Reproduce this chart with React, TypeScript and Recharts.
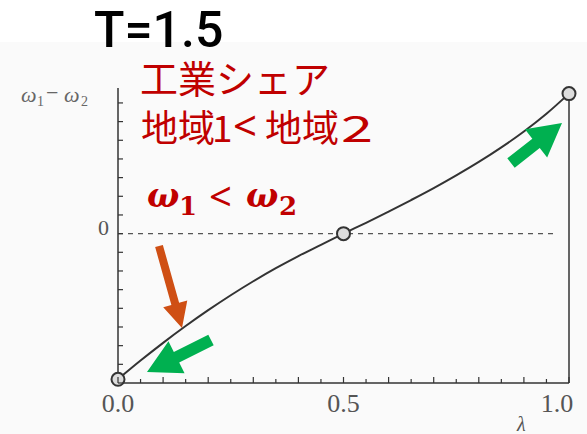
import React from "react";
import {
  ComposedChart,
  Line,
  Scatter,
  XAxis,
  YAxis,
  ReferenceLine,
} from "recharts";

// λ (share of workers in region 1) and ω1 − ω2 (in axis tick units)
const lambdaValues = [0, 0.05, 0.1, 0.15, 0.2, 0.25, 0.3, 0.35, 0.4, 0.45, 0.5, 0.55, 0.6, 0.65, 0.7, 0.75, 0.8, 0.85, 0.9, 0.95, 1.0];
const wageGap = [-7.8, -6.8, -5.85, -4.95, -4.1, -3.3, -2.55, -1.85, -1.2, -0.6, 0, 0.58, 1.18, 1.8, 2.44, 3.12, 3.84, 4.62, 5.47, 6.42, 7.5];

// equilibria (open circles)
const equilibriumLambda = [0, 0.5, 1.0];
const equilibriumGap = [-7.8, 0, 7.5];

// axis ticks
const xTickValues = [0, 0.05, 0.1, 0.15, 0.2, 0.25, 0.3, 0.35, 0.4, 0.45, 0.5, 0.55, 0.6, 0.65, 0.7, 0.75, 0.8, 0.85, 0.9, 0.95, 1.0];
const xTickLabelValues = [0, 0.5, 1.0];
const xTickLabels = ["0.0", "0.5", "1.0"];
const yTickValues = [-8, -7, -6, -5, -4, -3, -2, -1, 0, 1, 2, 3, 4, 5, 6, 7];
const yTickLabelValues = [0];
const yTickLabels = ["0"];

const curveData = lambdaValues.map((l, i) => ({ lam: l, diff: wageGap[i] }));
const eqData = equilibriumLambda.map((l, i) => ({ lam: l, diff: equilibriumGap[i] }));

const AXIS = "#333";
const RED = "#c00000";
const GREEN = "#00b050";
const ORANGE = "#cf4f14";

const XTick = (props: any) => {
  const { x, y, payload } = props;
  const v = payload.value;
  const major = Math.abs(v * 10 - Math.round(v * 10)) < 1e-6;
  const len = major ? 6 : 4;
  const idx = xTickLabelValues.findIndex((t) => Math.abs(t - v) < 1e-6);
  return (
    <g>
      <line x1={x} x2={x} y1={y} y2={y - len} stroke={AXIS} strokeWidth={1.2} />
      {idx >= 0 && (
        <text
          x={x + (idx === xTickLabels.length - 1 ? -12 : 0)}
          y={y + 29}
          textAnchor="middle"
          fontFamily="'Liberation Serif', serif"
          fontSize={26}
          fill="#555"
        >
          {xTickLabels[idx]}
        </text>
      )}
    </g>
  );
};

const YTick = (props: any) => {
  const { x, y, payload } = props;
  const v = payload.value;
  const idx = yTickLabelValues.findIndex((t) => Math.abs(t - v) < 1e-6);
  return (
    <g>
      <line x1={x} x2={x + 5} y1={y} y2={y} stroke={AXIS} strokeWidth={1.2} />
      {idx >= 0 && (
        <text
          x={x - 9}
          y={y + 1}
          textAnchor="end"
          fontFamily="'Liberation Serif', serif"
          fontSize={22}
          fill="#555"
        >
          {yTickLabels[idx]}
        </text>
      )}
    </g>
  );
};

const EqDot = (props: any) => {
  const { cx, cy } = props;
  return <circle cx={cx} cy={cy} r={6.5} fill="#dcdcdc" stroke="#333" strokeWidth={2} />;
};

function arrowPoints(tx: number, ty: number, hx: number, hy: number, sw: number, hw: number, hl: number) {
  const dx = hx - tx;
  const dy = hy - ty;
  const L = Math.sqrt(dx * dx + dy * dy);
  const ux = dx / L;
  const uy = dy / L;
  const px = -uy;
  const py = ux;
  const bx = hx - ux * hl;
  const by = hy - uy * hl;
  const pts = [
    [tx + px * sw / 2, ty + py * sw / 2],
    [bx + px * sw / 2, by + py * sw / 2],
    [bx + px * hw / 2, by + py * hw / 2],
    [hx, hy],
    [bx - px * hw / 2, by - py * hw / 2],
    [bx - px * sw / 2, by - py * sw / 2],
    [tx - px * sw / 2, ty - py * sw / 2],
  ];
  return pts.map((p) => p.join(",")).join(" ");
}

export default function App() {
  return (
    <div
      style={{
        position: "absolute",
        left: 0,
        top: 0,
        width: 587,
        height: 434,
        background: "linear-gradient(#ffffff 0px, #ffffff 42px, #fafafa 42px)",
        overflow: "hidden",
      }}
    >
      <ComposedChart
        width={587}
        height={434}
        data={curveData}
        margin={{ top: 88, right: 18, bottom: 0, left: 0 }}
      >
        <XAxis
          dataKey="lam"
          type="number"
          domain={[0, 1]}
          ticks={xTickValues}
          interval={0}
          tickSize={0}
          tickMargin={0}
          tick={<XTick />}
          height={51}
          axisLine={{ stroke: AXIS, strokeWidth: 1.5 }}
          tickLine={false}
        />
        <YAxis
          dataKey="diff"
          type="number"
          domain={[-8, 7.8]}
          ticks={yTickValues}
          interval={0}
          tickSize={0}
          tickMargin={0}
          tick={<YTick />}
          width={118}
          axisLine={{ stroke: AXIS, strokeWidth: 1.5 }}
          tickLine={false}
        />
        <ReferenceLine
          segment={[{ x: 0, y: 0 }, { x: 0.97, y: 0 }]}
          stroke="#555"
          strokeWidth={1.2}
          strokeDasharray="5 5"
          ifOverflow="visible"
        />
        <ReferenceLine
          segment={[{ x: 1, y: -8 }, { x: 1, y: 7.5 }]}
          stroke={AXIS}
          strokeWidth={1.5}
          ifOverflow="visible"
        />
        <Line
          dataKey="diff"
          type="monotone"
          stroke="#333"
          strokeWidth={2}
          dot={false}
          isAnimationActive={false}
        />
        <Scatter data={eqData} dataKey="diff" shape={<EqDot />} isAnimationActive={false} />
      </ComposedChart>

      <svg
        width={587}
        height={434}
        style={{ position: "absolute", left: 0, top: 0, pointerEvents: "none" }}
      >
        <text x={94} y={47} fontFamily="Roboto, 'Liberation Sans', sans-serif" fontWeight={500} fontSize={50} fill="#000">
          T=1.5
        </text>

        <text fontFamily="'Noto Sans CJK JP', sans-serif" fontSize={38} fill={RED}>
          <tspan x={140} y={93}>工業シェア</tspan>
        </text>
        <g fill={RED}>
          <text x={141} y={142} fontFamily="'Noto Sans CJK JP', sans-serif" fontSize={37}>地域</text>
          <text x={212} y={142} fontFamily="'Noto Sans CJK JP', sans-serif" fontSize={37}>1</text>
          <text x={233} y={141} fontFamily="'Noto Sans', sans-serif" fontSize={42}>&lt;</text>
          <text x={265} y={142} fontFamily="'Noto Sans CJK JP', sans-serif" fontSize={37}>地域</text>
          <text x={341} y={142} fontFamily="'Noto Sans CJK JP', sans-serif" fontSize={37} textLength={32} lengthAdjust="spacingAndGlyphs">2</text>
        </g>

        <g fill={RED}>
          <text x={147} y={207} fontFamily="'DejaVu Serif', serif" fontStyle="italic" fontWeight="bold" fontSize={34}>ω</text>
          <text x={179} y={215} fontFamily="'DejaVu Serif', serif" fontWeight="bold" fontSize={26}>1</text>
          <text x={209} y={211} fontFamily="'Noto Sans', sans-serif" fontWeight="normal" fontSize={40}>&lt;</text>
          <text x={246} y={207} fontFamily="'DejaVu Serif', serif" fontStyle="italic" fontWeight="bold" fontSize={34}>ω</text>
          <text x={279} y={215} fontFamily="'DejaVu Serif', serif" fontWeight="bold" fontSize={26}>2</text>
        </g>

        <g fill="#666" fontFamily="'Liberation Serif', serif">
          <text x={21} y={102} fontStyle="italic" fontSize={22}>ω</text>
          <text x={37} y={106} fontSize={14}>1</text>
          <text x={46} y={100} fontSize={22}>−</text>
          <text x={64} y={102} fontStyle="italic" fontSize={22}>ω</text>
          <text x={81} y={106} fontSize={14}>2</text>
        </g>

        <text x={517} y={431} fontFamily="'Liberation Serif', serif" fontStyle="italic" fontSize={20} fill="#555">
          λ
        </text>

        <polygon points={arrowPoints(159, 246, 182, 328, 8, 25, 25)} fill={ORANGE} />
        <polygon points={arrowPoints(211, 340, 147, 372, 12, 36, 33)} fill={GREEN} />
        <polygon points={arrowPoints(511, 163, 562, 123, 12, 36, 33)} fill={GREEN} />
      </svg>
    </div>
  );
}
